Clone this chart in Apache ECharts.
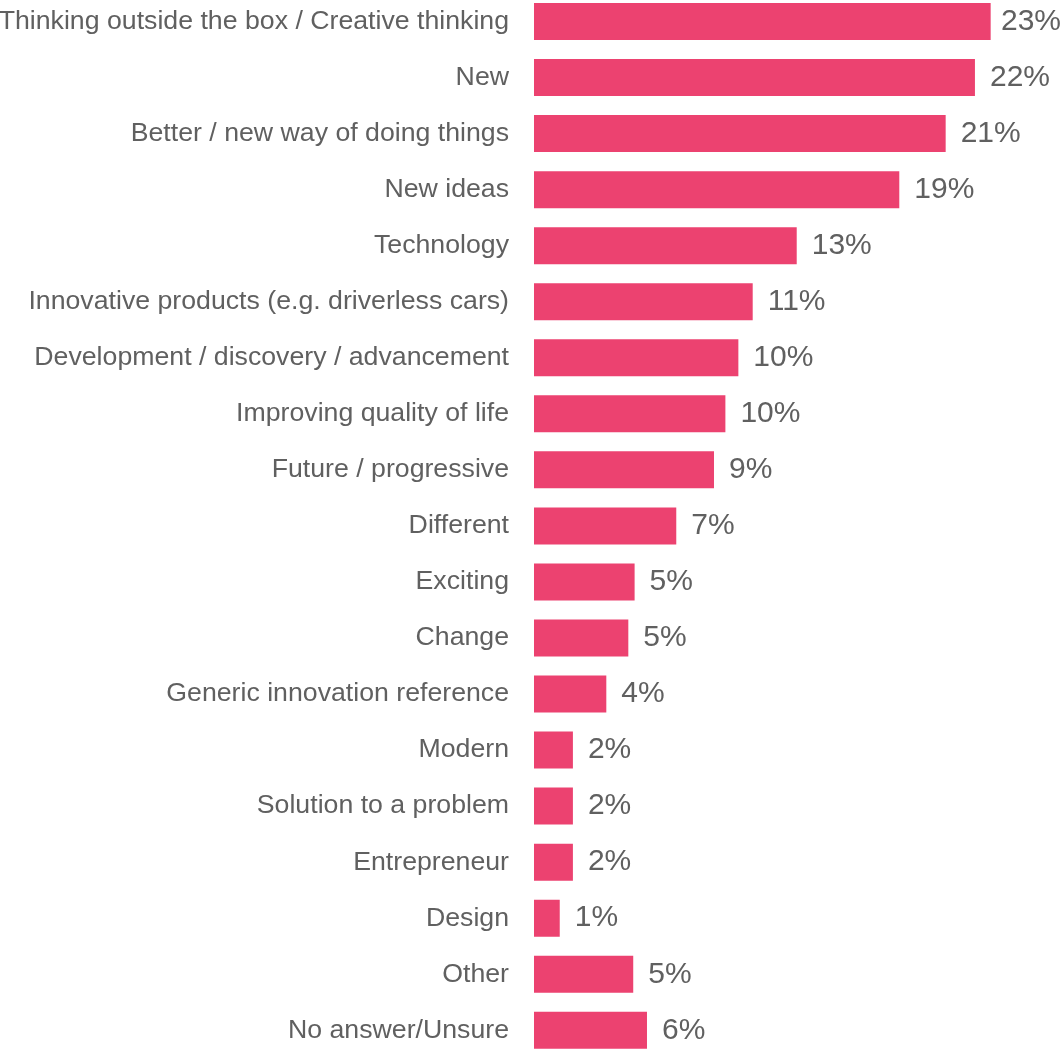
<!DOCTYPE html>
<html>
<head>
<meta charset="utf-8">
<script src="https://cdn.jsdelivr.net/npm/echarts@6/dist/echarts.min.js"></script>
<style>
  html, body { margin: 0; padding: 0; background: #ffffff; overflow: hidden; }
  #wrap { position: relative; width: 1063px; height: 1049px; overflow: hidden; }
  /* the bar bands run slightly past the page edges, so the chart box is shifted up */
  #chart { position: absolute; left: 0; top: -7px; width: 1063px; height: 1072px; }
</style>
</head>
<body>
<div id="wrap"><div id="chart"></div></div>
<script>
// Survey answers: what comes to mind with "innovation" (share of respondents, %)
const categories = [
  'Thinking outside the box / Creative thinking',
  'New',
  'Better / new way of doing things',
  'New ideas',
  'Technology',
  'Innovative products (e.g. driverless cars)',
  'Development / discovery / advancement',
  'Improving quality of life',
  'Future / progressive',
  'Different',
  'Exciting',
  'Change',
  'Generic innovation reference',
  'Modern',
  'Solution to a problem',
  'Entrepreneur',
  'Design',
  'Other',
  'No answer/Unsure'
];

// Unrounded shares; labels show them rounded to whole percent
const shares = [
  23.24, 22.44, 20.95, 18.59, 13.37, 11.13, 10.40, 9.74, 9.16, 7.24,
  5.12, 4.80, 3.68, 1.98, 1.98, 1.98, 1.31, 5.05, 5.75
];

const textColor = '#606060';
const barColor = '#EC4270';
const fontFamily = '"Liberation Sans", Arial, Helvetica, sans-serif';
const pageWidth = 1063;

const chart = echarts.init(document.getElementById('chart'), null, { renderer: 'canvas' });

chart.setOption({
  animation: false,
  backgroundColor: '#ffffff',
  grid: {
    left: 534,
    right: 37.75,
    top: 0.5,
    height: 1064.8,
    containLabel: false,
    outerBoundsMode: 'none'
  },
  xAxis: {
    type: 'value',
    min: 0,
    max: 25,
    show: false
  },
  yAxis: {
    type: 'category',
    data: categories,
    inverse: true,
    axisLine: { show: false },
    axisTick: { show: false },
    splitLine: { show: false },
    axisLabel: {
      margin: 25,
      fontSize: 26.7,
      color: textColor,
      fontFamily: fontFamily
    }
  },
  series: [{
    type: 'bar',
    data: shares,
    barWidth: 37,
    itemStyle: { color: barColor },
    label: {
      show: true,
      position: 'right',
      distance: 15,
      fontSize: 30,
      color: textColor,
      fontFamily: fontFamily,
      formatter: p => Math.round(p.value) + '%'
    },
    // keep value labels inside the page on the right
    labelLayout: function (params) {
      const r = params.labelRect;
      const limit = pageWidth - 2;
      if (r.x + r.width > limit) {
        return { x: limit - r.width, y: r.y, align: 'left', verticalAlign: 'top' };
      }
      return {};
    }
  }]
});
</script>
</body>
</html>
